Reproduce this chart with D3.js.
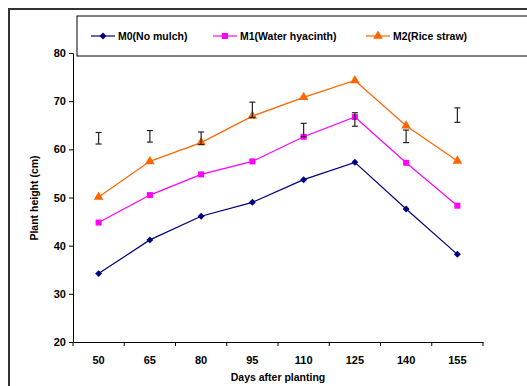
<!DOCTYPE html>
<html>
<head>
<meta charset="utf-8">
<script src="https://cdn.jsdelivr.net/npm/d3@7"></script>
<style>
  body { margin: 0; background: #fff; }
  text { font-family: "Liberation Sans", Arial, sans-serif; font-weight: bold; }
</style>
</head>
<body>
<svg id="chart" width="527" height="386"></svg>
<script>
// data
const days = ["50", "65", "80", "95", "110", "125", "140", "155"];
const m0 = [34.2, 41.2, 46.1, 49.0, 53.7, 57.3, 47.6, 38.2];
const m1 = [44.8, 50.5, 54.8, 57.5, 62.6, 66.7, 57.2, 48.3];
const m2 = [50.1, 57.5, 61.4, 66.9, 70.8, 74.3, 64.9, 57.6];
// LSD bars (low, high)
const errLow = [61.1, 61.5, 61.0, 66.6, 62.6, 64.8, 61.4, 65.6];
const errHigh = [63.5, 63.9, 63.6, 69.8, 65.4, 67.6, 64.0, 68.6];
const yTicks = [20, 30, 40, 50, 60, 70, 80];

const svg = d3.select("#chart");

// outer frame
svg.append("rect")
  .attr("x", 9).attr("y", 9)
  .attr("width", 540).attr("height", 400)
  .attr("fill", "none")
  .attr("stroke", "#333")
  .attr("stroke-width", 2);

const plotL = 73, plotR = 483, plotT = 53, plotB = 342;

const x = d3.scaleBand().domain(days).range([plotL, plotR]);
const y = d3.scaleLinear().domain([20, 80]).range([plotB, plotT]);

// y axis
const yAxis = svg.append("g")
  .attr("transform", `translate(${plotL},0)`)
  .call(d3.axisLeft(y).tickValues(yTicks).tickSize(4).tickPadding(3));
yAxis.select(".domain").attr("stroke", "#000");
yAxis.selectAll("text").attr("font-size", 11).attr("fill", "#000");

// x axis
const xAxis = svg.append("g")
  .attr("transform", `translate(0,${plotB})`)
  .call(d3.axisBottom(x).tickSize(0).tickPadding(14));
xAxis.select(".domain").attr("stroke", "#000");
xAxis.selectAll("text").attr("font-size", 11).attr("fill", "#000");
// category boundary ticks
xAxis.selectAll(".bnd")
  .data(days.concat(["end"]))
  .enter().append("line")
  .attr("x1", (d, i) => plotL + i * x.step())
  .attr("x2", (d, i) => plotL + i * x.step())
  .attr("y1", 0).attr("y2", 4)
  .attr("stroke", "#000");

// axis titles
svg.append("text")
  .attr("x", 278).attr("y", 381)
  .attr("text-anchor", "middle")
  .attr("font-size", 10.5)
  .text("Days after planting");
svg.append("text")
  .attr("transform", "translate(38,198) rotate(-90)")
  .attr("text-anchor", "middle")
  .attr("font-size", 10.5)
  .text("Plant height (cm)");

const series = [
  { name: "M0(No mulch)", values: m0, color: "#000080", shape: d3.symbolSquare, size: 24, rot: 45 },
  { name: "M1(Water hyacinth)", values: m1, color: "#FF00FF", shape: d3.symbolSquare, size: 36, rot: 0 },
  { name: "M2(Rice straw)", values: m2, color: "#FF6600", shape: d3.symbolTriangle, size: 40, rot: 0 }
];

const cx = d => x(d) + x.bandwidth() / 2;
const line = d3.line().x(d => cx(d[0])).y(d => y(d[1]));

series.forEach(s => {
  const pts = days.map((d, i) => [d, s.values[i]]);
  svg.append("path")
    .datum(pts)
    .attr("d", line)
    .attr("fill", "none")
    .attr("stroke", s.color)
    .attr("stroke-width", 1.2);
  svg.selectAll(null)
    .data(pts)
    .enter().append("path")
    .attr("d", d3.symbol().type(s.shape).size(s.size))
    .attr("transform", d => `translate(${cx(d[0])},${y(d[1])}) rotate(${s.rot})`)
    .attr("fill", s.color);
});

// error bars
const eb = svg.append("g").attr("stroke", "#222").attr("stroke-width", 1.2);
days.forEach((d, i) => {
  const xc = cx(d);
  eb.append("line").attr("x1", xc).attr("x2", xc).attr("y1", y(errLow[i])).attr("y2", y(errHigh[i]));
  eb.append("line").attr("x1", xc - 3).attr("x2", xc + 3).attr("y1", y(errLow[i])).attr("y2", y(errLow[i]));
  eb.append("line").attr("x1", xc - 3).attr("x2", xc + 3).attr("y1", y(errHigh[i])).attr("y2", y(errHigh[i]));
});

// legend
svg.append("rect")
  .attr("x", 77).attr("y", 16)
  .attr("width", 470).attr("height", 40)
  .attr("fill", "#fff")
  .attr("stroke", "#000")
  .attr("stroke-width", 1);

const legX = [91, 213, 366];
series.forEach((s, i) => {
  const g = svg.append("g").attr("transform", `translate(${legX[i]},36)`);
  g.append("line").attr("x1", 0).attr("x2", 24).attr("stroke", s.color).attr("stroke-width", 1.2);
  g.append("path")
    .attr("d", d3.symbol().type(s.shape).size(s.size))
    .attr("transform", `translate(12,0) rotate(${s.rot})`)
    .attr("fill", s.color);
  g.append("text")
    .attr("x", 27).attr("y", 4)
    .attr("font-size", 10.5)
    .text(s.name);
});
</script>
</body>
</html>
